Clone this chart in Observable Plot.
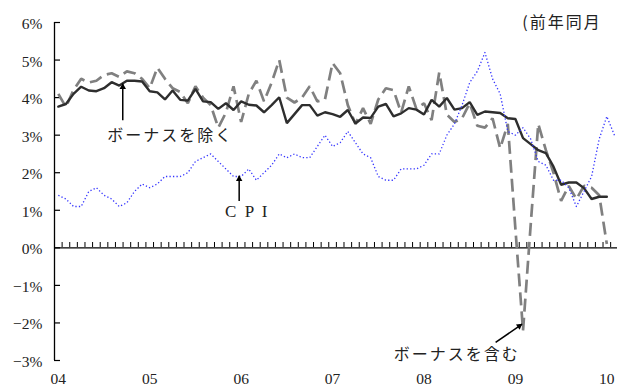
<!DOCTYPE html>
<html><head><meta charset="utf-8">
<script src="https://cdn.jsdelivr.net/npm/d3@7"></script>
<script src="https://cdn.jsdelivr.net/npm/@observablehq/plot@0.6"></script>
<style>
html,body{margin:0;padding:0;background:#fff;}
g[aria-label="text"] text { letter-spacing: 2px; }
g[aria-label="y-axis tick label"] text, g[aria-label="x-axis tick label"] text { font-family: "Liberation Serif", "DejaVu Serif", serif; }
</style></head><body><div id="chart"></div>
<script>
// Monthly index: 0 = Jan 2004 ... 73 = Feb 2010
const months = d3.range(74);
const yearLabels = ["04","05","06","07","08","09","10"];
const yearMonths = [0,12,24,36,48,60,72];
const yTicks = [-3,-2,-1,0,1,2,3,4,5,6];

// CPI (year-on-year, %)
const cpi = [
1.4,1.3,1.1,1.1,1.5,1.6,1.4,1.3,1.1,1.2,1.5,1.7,
1.6,1.7,1.9,1.9,1.9,2.0,2.3,2.4,2.5,2.3,2.1,1.9,
1.9,2.1,1.8,2.0,2.2,2.5,2.4,2.5,2.4,2.4,2.7,3.0,
2.7,2.8,3.1,2.8,2.5,2.4,1.9,1.8,1.8,2.1,2.1,2.1,
2.2,2.5,2.5,3.0,3.3,3.8,4.4,4.7,5.2,4.5,4.1,3.1,
3.0,3.2,2.9,2.3,2.2,1.8,1.8,1.6,1.1,1.5,1.9,2.9,
3.5,3.0];

// Earnings excluding bonus (%)
const exBonus = [
3.76,3.83,4.10,4.29,4.19,4.17,4.25,4.41,4.32,4.45,4.45,4.43,
4.17,4.14,3.95,4.19,3.94,3.92,4.23,3.90,3.88,3.70,3.85,3.67,
3.90,3.81,3.79,3.61,3.80,4.01,3.32,3.56,3.80,3.80,3.52,3.61,
3.56,3.49,3.67,3.31,3.47,3.46,3.76,3.83,3.50,3.58,3.72,3.68,
3.55,3.94,3.76,3.99,3.68,3.72,3.88,3.54,3.63,3.61,3.59,3.45,
3.43,2.92,2.76,2.60,2.52,2.16,1.68,1.74,1.74,1.59,1.30,1.36,
1.36];

// Earnings including bonus (%)
const incBonus = [
4.10,3.75,4.20,4.50,4.40,4.45,4.60,4.65,4.55,4.70,4.65,4.50,
4.25,4.80,4.50,4.25,4.15,3.85,4.30,4.00,3.80,3.20,3.60,4.30,
3.35,4.10,4.45,3.90,4.40,5.00,4.00,3.87,4.00,4.30,3.90,3.95,
4.92,4.65,3.80,3.30,3.72,3.30,3.95,4.25,4.20,3.60,4.30,3.70,
3.85,3.40,4.67,3.55,3.35,3.45,3.85,3.25,3.20,3.45,2.65,3.30,
0.50,-2.20,0.60,3.30,2.60,2.00,1.25,1.65,1.30,1.65,1.60,1.40,
0.10];

const table = months.map(i => ({i, cpi: cpi[i], ex: exBonus[i], inc: incBonus[i]}));
const monthBounds = months.map(i => i + 0.5);

// annotations (data coordinates)
const labels = [
  {text: "ボーナスを除く", x: 14.7, y: 2.98},
  {text: "ボーナスを含む", x: 52.3, y: -2.85}
];
const cpiLabel = [{text: "C P I", x: 24.8, y: 0.96}];
const unitLabel = [{text: "(前年同月", x: 60.9, y: 5.99}];
const arrows = [
  {x1: 8.46, y1: 3.40, x2: 8.46, y2: 4.37},
  {x1: 23.74, y1: 1.25, x2: 23.74, y2: 1.92},
  {x1: 57.4, y1: -2.52, x2: 60.88, y2: -2.03}
];

const serif = "Liberation Serif";
const cjk = "Noto Sans CJK JP";
const fmt = d => (d < 0 ? "\u2212" : "") + Math.abs(d) + "%";

const chart = Plot.plot({
  width: 617, height: 387,
  marginLeft: 54, marginRight: 0, marginTop: 22, marginBottom: 27,
  x: {domain: [-0.5, 73.4], axis: null},
  y: {domain: [-3, 6], axis: null},
  style: {background: "#fff", fontFamily: serif},
  marks: [
    Plot.ruleX([-0.5], {stroke: "#000", strokeWidth: 1.3}),
    Plot.ruleY([0], {stroke: "#000", strokeWidth: 1.3}),
    Plot.tickY(yTicks, {y: d => d, insetRight: 557, stroke: "#000", strokeWidth: 1.2}),
    Plot.tickX(monthBounds, {x: d => d, insetTop: 220, insetBottom: 113, stroke: "#000", strokeWidth: 1}),
    Plot.axisY(yTicks, {tickSize: 0, tickPadding: 12, tickFormat: fmt, fontSize: 15.5, fontFamily: serif, fill: "#222", dy: 1.5}),
    Plot.axisX(yearMonths, {tickSize: 0, tickPadding: 12, tickFormat: d => yearLabels[yearMonths.indexOf(d)], fontSize: 15.5, fontFamily: serif, fill: "#222"}),
    Plot.line(table, {x: "i", y: "inc", stroke: "#808080", strokeWidth: 2.7, strokeDasharray: "13,6", strokeLinecap: "butt", strokeLinejoin: "miter"}),
    Plot.line(table, {x: "i", y: "ex", stroke: "#2e2e2e", strokeWidth: 2.4, strokeLinejoin: "miter"}),
    Plot.line(table, {x: "i", y: "cpi", stroke: "#3535ff", strokeWidth: 1.3, strokeDasharray: "1.3,2.2", strokeLinecap: "butt"}),
    Plot.link(arrows, {x1: "x1", y1: "y1", x2: "x2", y2: "y2", stroke: "#000", strokeWidth: 1.5}),
    Plot.dot(arrows.slice(0, 2), {x: "x2", y: "y2", symbol: "triangle", r: 2.4, fill: "#000", stroke: "none", dy: 3.3}),
    Plot.dot(arrows.slice(2), {x: "x2", y: "y2", symbol: "triangle", r: 2.4, fill: "#000", stroke: "none", rotate: 55, dx: -2.8, dy: 1.9}),
    Plot.text(labels, {x: "x", y: "y", text: "text", fontSize: 16, fontFamily: cjk, fill: "#222"}),
    Plot.text(cpiLabel, {x: "x", y: "y", text: "text", fontSize: 17, fontFamily: serif, fill: "#222"}),
    Plot.text(unitLabel, {x: "x", y: "y", text: "text", textAnchor: "start", fontSize: 16, fontFamily: cjk, fill: "#222"})
  ]
});
document.getElementById("chart").append(chart);
</script></body></html>
